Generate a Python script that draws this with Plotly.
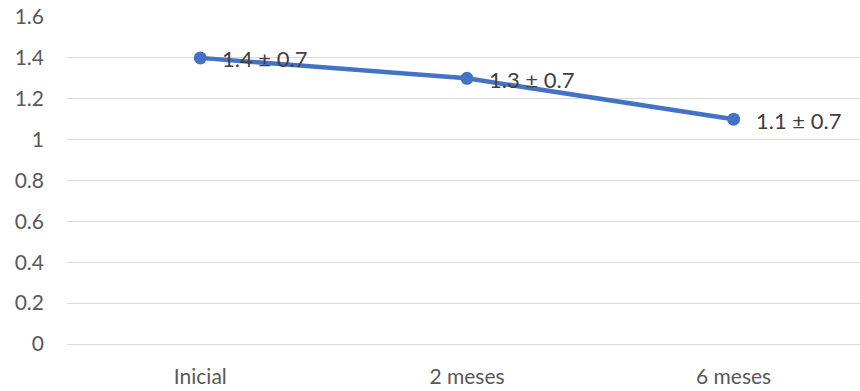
import plotly.graph_objects as go

categories = ["Inicial", "2 meses", "6 meses"]
means = [1.4, 1.3, 1.1]
sds = [0.7, 0.7, 0.7]
labels = [f"{m} ± {s}" for m, s in zip(means, sds)]

FONT = "Lato, Open Sans, sans-serif"

fig = go.Figure(
    go.Scatter(
        x=[0, 1, 2],
        y=means,
        mode="lines+markers",
        line=dict(color="#4472C4", width=4.5),
        marker=dict(color="#4472C4", size=13),
        cliponaxis=False,
        hoverinfo="skip",
    )
)

# value labels to the right of each point
for i, (m, t) in enumerate(zip(means, labels)):
    fig.add_annotation(
        x=i, y=m, text=t, showarrow=False,
        xanchor="left", yanchor="middle", xshift=20, yshift=-1,
        font=dict(family=FONT, size=22, color="#404040"),
    )

fig.update_layout(
    width=860,
    height=391,
    margin=dict(l=67, r=0, t=17, b=47),
    paper_bgcolor="white",
    plot_bgcolor="white",
    showlegend=False,
    font=dict(family=FONT, size=21, color="#595959"),
)
fig.update_xaxes(
    tickmode="array",
    tickvals=[0, 1, 2],
    ticktext=categories,
    range=[-0.5, 2.474],
    showgrid=False,
    zeroline=False,
    showline=False,
    ticks="",
    ticklabelstandoff=18,
)
fig.update_yaxes(
    range=[0, 1.6],
    dtick=0.2,
    tickformat="~g",
    showgrid=True,
    gridcolor="#D9D9D9",
    gridwidth=1.3,
    zeroline=True,
    zerolinecolor="#D9D9D9",
    zerolinewidth=1.3,
    showline=False,
    ticks="",
    ticklabelstandoff=22,
)

fig.write_html("out.html")
